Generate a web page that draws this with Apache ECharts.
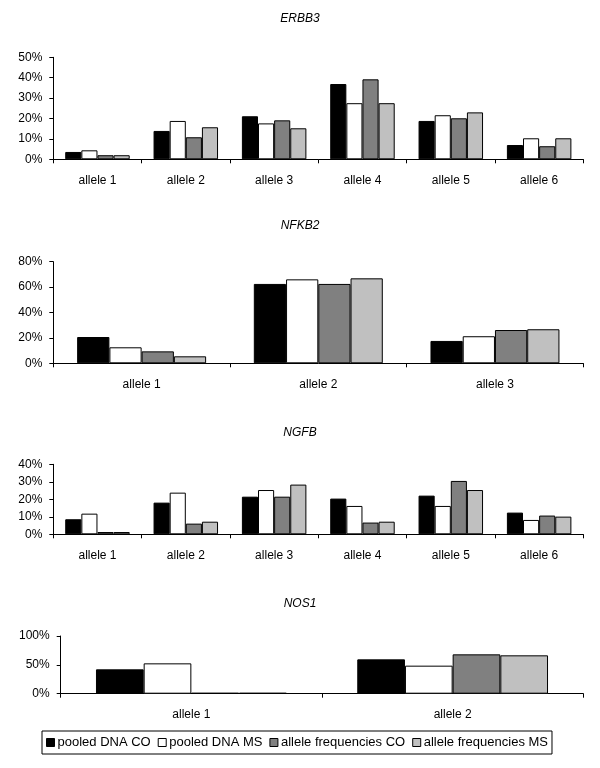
<!DOCTYPE html>
<html>
<head>
<meta charset="utf-8">
<script src="https://cdn.jsdelivr.net/npm/echarts@6/dist/echarts.min.js"></script>
<style>
html,body{margin:0;padding:0;background:#fff;}
#chart{width:600px;height:768px;}
</style>
</head>
<body>
<div id="chart"></div>
<script>
// ---- Data (percent) ----
const seriesNames = ['pooled DNA CO', 'pooled DNA MS', 'allele frequencies CO', 'allele frequencies MS'];
const seriesColors = ['#000000', '#FFFFFF', '#808080', '#C0C0C0'];

const panelTitles = ['ERBB3', 'NFKB2', 'NGFB', 'NOS1'];

const erbb3Cats = ['allele 1', 'allele 2', 'allele 3', 'allele 4', 'allele 5', 'allele 6'];
const erbb3PooledCO = [3.6, 13.9, 21.1, 36.9, 18.8, 7.0];
const erbb3PooledMS = [4.4, 18.8, 17.6, 27.5, 21.6, 10.3];
const erbb3FreqCO   = [2.0, 10.8, 19.1, 39.2, 20.1, 6.4];
const erbb3FreqMS   = [2.0, 15.7, 15.2, 27.5, 23.0, 10.3];

const nfkb2Cats = ['allele 1', 'allele 2', 'allele 3'];
const nfkb2PooledCO = [20.7, 62.5, 17.6];
const nfkb2PooledMS = [12.6, 66.1, 21.3];
const nfkb2FreqCO   = [9.4, 62.5, 26.2];
const nfkb2FreqMS   = [5.5, 66.9, 26.8];

const ngfbCats = ['allele 1', 'allele 2', 'allele 3', 'allele 4', 'allele 5', 'allele 6'];
const ngfbPooledCO = [8.6, 18.1, 21.5, 20.4, 22.1, 12.4];
const ngfbPooledMS = [11.8, 23.8, 25.3, 16.2, 16.2, 8.2];
const ngfbFreqCO   = [1.3, 6.1, 21.5, 6.7, 30.5, 10.7];
const ngfbFreqMS   = [1.3, 7.2, 28.4, 7.2, 25.3, 10.1];

const nos1Cats = ['allele 1', 'allele 2'];
const nos1PooledCO = [42.2, 59.5];
const nos1PooledMS = [52.6, 48.6];
const nos1FreqCO   = [1.5, 68.2];
const nos1FreqMS   = [1.5, 66.5];

const yMax = [50, 80, 40, 100];
const yInterval = [10, 20, 10, 50];

// ---- Layout ----
const FONT = 'Liberation Sans, Arial, sans-serif';
const grids = [
  { left: 53.3, width: 530, top: 57.3, height: 102 },
  { left: 53.3, width: 530, top: 261.7, height: 101.6 },
  { left: 53.3, width: 530, top: 464.3, height: 70 },
  { left: 60.7, width: 522.6, top: 636, height: 57.7 }
];
const titleTops = [13, 220, 427, 598];

const panels = [
  { cats: erbb3Cats, data: [erbb3PooledCO, erbb3PooledMS, erbb3FreqCO, erbb3FreqMS] },
  { cats: nfkb2Cats, data: [nfkb2PooledCO, nfkb2PooledMS, nfkb2FreqCO, nfkb2FreqMS] },
  { cats: ngfbCats, data: [ngfbPooledCO, ngfbPooledMS, ngfbFreqCO, ngfbFreqMS] },
  { cats: nos1Cats, data: [nos1PooledCO, nos1PooledMS, nos1FreqCO, nos1FreqMS] }
];

const option = {
  backgroundColor: '#fff',
  animation: false,
  title: panelTitles.map((t, i) => ({
    text: t, left: 'center', top: titleTops[i], padding: 0,
    textStyle: { fontFamily: FONT, fontSize: 12, fontStyle: 'italic', fontWeight: 'normal', color: '#000' }
  })),
  grid: grids.map(g => Object.assign({ containLabel: false }, g)),
  xAxis: panels.map((p, i) => ({
    type: 'category', gridIndex: i, data: p.cats,
    axisLine: { lineStyle: { color: '#000', width: 1 } },
    axisTick: { show: true, length: 4, lineStyle: { color: '#000' } },
    axisLabel: { interval: 0, margin: 15, fontFamily: FONT, fontSize: 12, color: '#000' },
    splitLine: { show: false }
  })),
  yAxis: panels.map((p, i) => ({
    type: 'value', gridIndex: i, min: 0, max: yMax[i], interval: yInterval[i],
    axisLine: { show: true, lineStyle: { color: '#000', width: 1 } },
    axisTick: { show: true, length: 4, lineStyle: { color: '#000' } },
    axisLabel: { formatter: '{value}%', margin: 11, fontFamily: FONT, fontSize: 12, color: '#000' },
    splitLine: { show: false }
  })),
  legend: {
    data: seriesNames,
    left: 42, top: 731,
    orient: 'horizontal',
    icon: 'rect', itemWidth: 8, itemHeight: 8, itemGap: 7,
    padding: [5, 4, 5, 4],
    borderColor: '#000', borderWidth: 1,
    textStyle: { fontFamily: FONT, fontSize: 13, color: '#000', padding: [0, 0, 0, -2] },
    itemStyle: { borderColor: '#000', borderWidth: 1 }
  },
  series: []
};

panels.forEach((p, i) => {
  p.data.forEach((vals, s) => {
    option.series.push({
      name: seriesNames[s], type: 'bar', xAxisIndex: i, yAxisIndex: i,
      data: vals, barGap: '0%', barCategoryGap: '27%',
      itemStyle: { color: seriesColors[s], borderColor: '#000', borderWidth: 1 }
    });
  });
});

const chart = echarts.init(document.getElementById('chart'), null, { renderer: 'canvas' });
chart.setOption(option);
</script>
</body>
</html>
